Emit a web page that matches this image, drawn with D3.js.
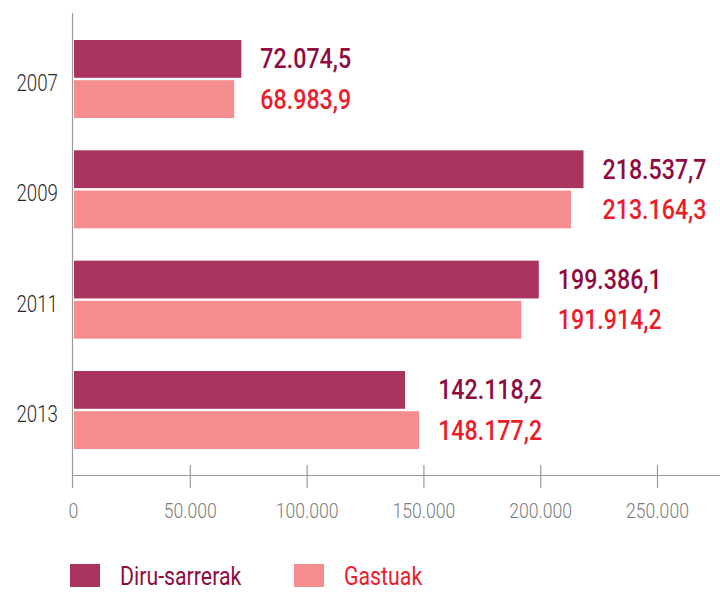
<!DOCTYPE html>
<html><head><meta charset="utf-8">
<script src="https://cdn.jsdelivr.net/npm/d3@7"></script>
<style>body{margin:0;background:#fff}svg{display:block}</style>
</head><body>
<script>
const years = ["2007","2009","2011","2013"];
const seriesNames = ["Diru-sarrerak","Gastuak"];
const diruSarrerak = [72074.5, 218537.7, 199386.1, 142118.2];
const gastuak = [68983.9, 213164.3, 191914.2, 148177.2];
const tickValues = [0, 50000, 100000, 150000, 200000, 250000];

const W = 720, H = 592;
const barColors = ["#A8345F", "#F58D8F"];
const textColors = ["#8E0C3F", "#EC1C2A"];
const FONT = "Roboto, 'Liberation Sans', sans-serif";

const fmt = d3.formatLocale({decimal: ",", thousands: ".", grouping: [3], currency: ["", ""]});
const fmtVal = fmt.format(",.1f");
const fmtTick = fmt.format(",.0f");

const svg = d3.select("body").append("svg").attr("width", W).attr("height", H);

// condensed text helper
function ctext(sel, x, y, sx, opts) {
  const t = sel.append("text")
    .attr("transform", `translate(${x},${y}) scale(${sx},1)`)
    .attr("font-family", FONT)
    .attr("font-size", opts.size)
    .attr("font-weight", opts.weight || 400)
    .attr("fill", opts.fill)
    .attr("text-anchor", opts.anchor || "start")
    .text(opts.text);
  return t;
}

const x = d3.scaleLinear().domain([0, 250000]).range([73, 657]);
const y = d3.scalePoint().domain(years).range([79, 410]);
const inner = d3.scaleBand().domain(seriesNames).range([-39, 39]).paddingInner(0.06);

const data = years.map((yr, i) => ({year: yr, vals: [diruSarrerak[i], gastuak[i]]}));

const AXIS_Y = 475;
// horizontal axis (ticks via d3 axis)
const axisG = svg.append("g").attr("transform", `translate(0,${AXIS_Y})`);
axisG.call(d3.axisBottom(x).tickValues(tickValues).tickFormat(fmtTick).tickSize(0));
axisG.select(".domain").remove();
axisG.selectAll(".tick text").remove();
axisG.append("line").attr("x1", 72).attr("x2", 720).attr("y1", 0.5).attr("y2", 0.5)
  .attr("stroke", "#9a9a9a").attr("stroke-width", 1.2);
axisG.selectAll(".tick").filter(d => d !== 0).append("line").attr("y1", -10).attr("y2", 13)
  .attr("stroke", "#9a9a9a").attr("stroke-width", 1.2);
axisG.selectAll(".tick").each(function(d) {
  ctext(d3.select(this), 0, 43, 0.84, {size: 21, weight: 300, fill: "#7a7a7a", anchor: "middle", text: fmtTick(d)});
});

// vertical axis (doubles as 0 tick)
svg.append("line").attr("x1", 72.5).attr("x2", 72.5).attr("y1", 13).attr("y2", AXIS_Y + 13)
  .attr("stroke", "#9a9a9a").attr("stroke-width", 1.2);

// year labels
years.forEach(yr => {
  ctext(svg, 58, y(yr) + 12, 0.78, {size: 24, weight: 300, fill: "#2a2a2a", anchor: "end", text: yr});
});

// bars
const grp = svg.selectAll("g.grp").data(data).join("g").attr("class", "grp")
  .attr("transform", d => `translate(0,${y(d.year)})`);
grp.selectAll("rect").data(d => d.vals.map((v, k) => ({k, v}))).join("rect")
  .attr("x", x(0) + 1).attr("y", d => inner(seriesNames[d.k]))
  .attr("width", d => x(d.v) - x(0) - 1).attr("height", inner.bandwidth())
  .attr("fill", d => barColors[d.k]);
grp.each(function(d) {
  const mx = x(d3.max(d.vals));
  const g = d3.select(this);
  d.vals.forEach((v, k) => {
    const cy = inner(seriesNames[k]) + inner.bandwidth() / 2;
    ctext(g, mx + 19, cy + 9.5, 0.86, {size: 27, weight: 500, fill: textColors[k], text: fmtVal(v)});
  });
});

// legend
const legX = [70, 294];
seriesNames.forEach((n, k) => {
  svg.append("rect").attr("x", legX[k]).attr("y", 564).attr("width", 30).attr("height", 23)
    .attr("fill", barColors[k]);
  ctext(svg, legX[k] + 50, 585, 0.82, {size: 26, weight: 400, fill: textColors[k], text: n});
});
</script>
</body></html>
